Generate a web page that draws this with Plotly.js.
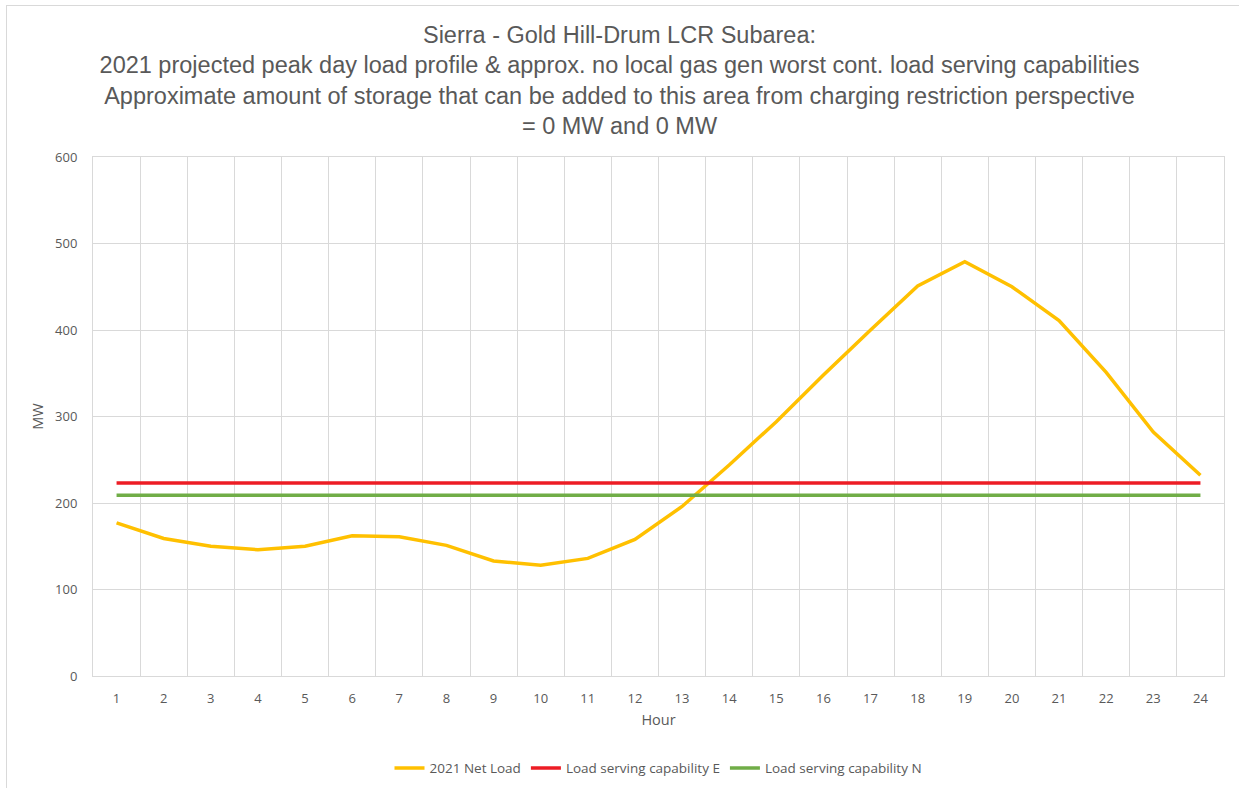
<!DOCTYPE html>
<html>
<head>
<meta charset="utf-8">
<script src="https://cdn.plot.ly/plotly-3.0.1.min.js"></script>
<style>
  html, body { margin: 0; padding: 0; background: #fff; }
  #frame { position: absolute; left: 6px; top: 5px; width: 1240px; height: 790px;
           border-left: 1px solid #d9d9d9; border-top: 1px solid #d9d9d9; }
  #chart { position: absolute; left: 0; top: 0; width: 1239px; height: 788px; }
</style>
</head>
<body>
<div id="frame"></div>
<div id="chart"></div>
<script>
// hours of the day, 1..24
const hours = ['1','2','3','4','5','6','7','8','9','10','11','12',
               '13','14','15','16','17','18','19','20','21','22','23','24'];

// 2021 projected net load (MW)
const netLoad = [177, 159, 150, 146, 150, 162, 161, 151, 133, 128, 136, 158,
                 196, 244, 294, 348, 400, 451, 479, 450, 411, 351, 282, 232];

// load serving capabilities (MW), flat all day
const capE = hours.map(() => 223);
const capN = hours.map(() => 209);

const txt = '#595959';
const gridCol = '#d9d9d9';
const tickFont = { family: 'Open Sans, sans-serif', size: 13, color: txt };

const traces = [
  { x: hours, y: netLoad, name: '2021 Net Load', type: 'scatter', mode: 'lines',
    line: { color: '#FFC000', width: 3.5 } },
  { x: hours, y: capE, name: 'Load serving capability E', type: 'scatter', mode: 'lines',
    line: { color: '#ED1C24', width: 3.5 } },
  { x: hours, y: capN, name: 'Load serving capability N', type: 'scatter', mode: 'lines',
    line: { color: '#70AD47', width: 3.5 } }
];

const layout = {
  width: 1239, height: 788,
  margin: { l: 93, r: 15, t: 157, b: 112, autoexpand: false },
  paper_bgcolor: 'rgba(0,0,0,0)',
  plot_bgcolor: '#fff',
  font: { family: 'Liberation Sans, Arial, sans-serif', color: txt },
  title: {
    text: 'Sierra - Gold Hill-Drum LCR Subarea:<br>2021 projected peak day load profile &amp; approx. no local gas gen worst cont. load serving capabilities<br>Approximate amount of storage that can be added to this area from charging restriction perspective<br>= 0 MW and 0 MW',
    font: { size: 23.5, color: txt },
    x: 0.5, xanchor: 'center', y: 0.946, yanchor: 'top'
  },
  xaxis: {
    type: 'category', range: [-0.5, 23.5], tickson: 'boundaries',
    ticks: '', ticklabelstandoff: 10,
    showgrid: true, gridcolor: gridCol, gridwidth: 1,
    showline: true, linecolor: gridCol, mirror: true,
    tickfont: tickFont,
    title: { text: 'Hour', font: { family: 'Open Sans, sans-serif', size: 14.5, color: txt }, standoff: 9 },
    fixedrange: true
  },
  yaxis: {
    range: [0, 600], dtick: 100,
    showgrid: true, gridcolor: gridCol, gridwidth: 1,
    zeroline: false,
    showline: true, linecolor: gridCol, mirror: true,
    tickfont: tickFont,
    ticks: '', ticklabelstandoff: 12,
    title: { text: 'MW', font: { family: 'Open Sans, sans-serif', size: 14.5, color: txt }, standoff: 8 },
    fixedrange: true
  },
  showlegend: true,
  legend: {
    orientation: 'h', x: 0.5, xanchor: 'center',
    yref: 'container', y: 0.025, yanchor: 'middle',
    font: { family: 'Open Sans, sans-serif', size: 13.5, color: txt },
    traceorder: 'normal'
  }
};

Plotly.newPlot('chart', traces, layout, { displayModeBar: false, staticPlot: true });
</script>
</body>
</html>
